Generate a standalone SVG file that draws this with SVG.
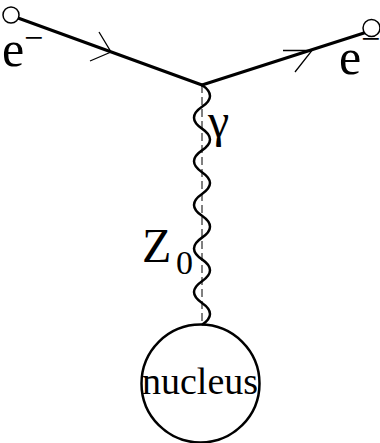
<svg xmlns="http://www.w3.org/2000/svg" width="380" height="443" viewBox="0 0 380 443">
<style>
.fermion{fill:none;stroke:#000;stroke-width:3;stroke-linecap:round}
.arrow{fill:none;stroke:#000;stroke-width:1.3}
.end{fill:#fff;stroke:#000;stroke-width:1.5}
.lbl{fill:#000}
.photon{fill:none;stroke:#000;stroke-width:2.5}
.axis{fill:none;stroke:#000;stroke-width:1;stroke-dasharray:8,4}
</style>
<g id="connectors">
<line class="fermion" x1="18" y1="18" x2="202" y2="85"/>
<polyline class="arrow" points="99,32 111,52 90,61"/>
<line class="fermion" x1="202" y1="85" x2="364" y2="33"/>
<polyline class="arrow" points="283,50.5 312,50.5 295,72"/>
<line class="axis" x1="202" y1="85" x2="202" y2="325"/>
<path class="photon" d="M202,85 q16,10.9 0,21.8 t0,21.8 t0,21.8 t0,21.8 t0,21.8 t0,21.8 t0,21.8 t0,21.8 t0,21.8 t0,21.8 t0,21.8"/>
</g>
<g id="e-in">
<circle class="end" cx="11" cy="15" r="8"/>
<text class="lbl" font-family="'Liberation Serif', 'Times New Roman', serif" font-size="50" x="2" y="66">e<tspan font-size="34" x="24" y="49">−</tspan></text>
</g>
<g id="e-out">
<circle class="end" cx="371.5" cy="28" r="8.5"/>
<text class="lbl" font-family="'Liberation Serif', 'Times New Roman', serif" font-size="50" x="339" y="74">e<tspan font-size="34" x="361" y="50">−</tspan></text>
</g>
<g id="gamma">
<text class="lbl" font-family="'Liberation Serif', 'Times New Roman', serif" font-size="48" x="208" y="137">γ</text>
</g>
<g id="z0">
<text class="lbl" font-family="'Liberation Serif', 'Times New Roman', serif" font-size="48" x="142" y="262">Z<tspan font-size="34" x="176" y="274">0</tspan></text>
</g>
<g id="nucleus">
<circle cx="200.5" cy="383.5" r="59" fill="none" stroke="#000" stroke-width="2.5"/>
<text class="lbl" font-family="'Liberation Serif', 'Times New Roman', serif" font-size="38" x="200" y="394" text-anchor="middle">nucleus</text>
</g>
</svg>
